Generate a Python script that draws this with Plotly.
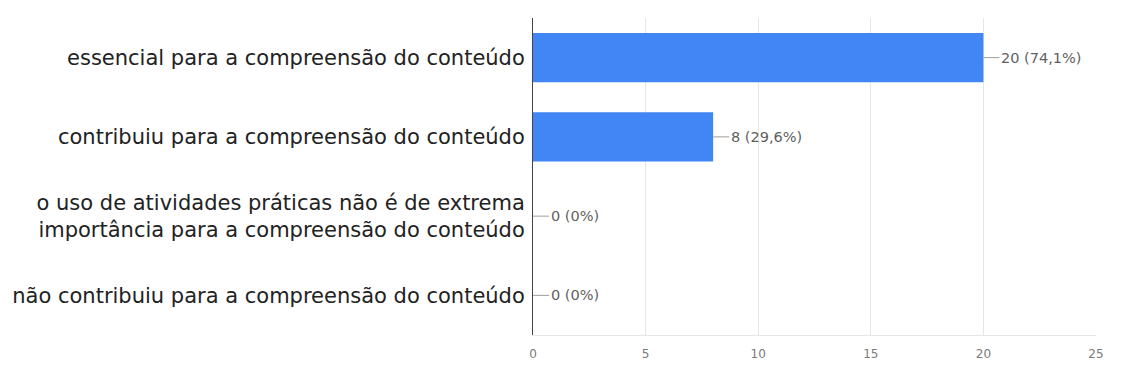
import plotly.graph_objects as go

# Survey answers (top to bottom) and their response counts / shares
categories = [
    "essencial para a compreensão do conteúdo",
    "contribuiu para a compreensão do conteúdo",
    "o uso de atividades práticas não é de extrema<br>importância para a compreensão do conteúdo",
    "não contribuiu para a compreensão do conteúdo",
]
counts = [20, 8, 0, 0]
shares = ["74,1%", "29,6%", "0%", "0%"]
x_ticks = [0, 5, 10, 15, 20, 25]

bar_color = "#4285f4"
label_color = "#222222"
muted = "#7a7a7a"
font_family = "DejaVu Sans, Verdana, sans-serif"

fig = go.Figure(
    go.Bar(
        x=counts,
        y=categories,
        orientation="h",
        marker=dict(color=bar_color, line=dict(width=0)),
        hoverinfo="skip",
    )
)

# Value labels with a short leader line to the right of each bar
for cat, n, pct in zip(categories, counts, shares):
    fig.add_annotation(
        x=n, y=cat, xref="x", yref="y",
        text=f"{n} ({pct})",
        showarrow=True, arrowhead=0, arrowwidth=1, arrowcolor="#9e9e9e",
        ax=16, ay=0, xanchor="left",
        font=dict(family=font_family, size=14.5, color="#5f5f5f"),
        standoff=0, startstandoff=0,
    )

fig.update_layout(
    width=1125, height=380,
    margin=dict(l=531, r=29, t=18, b=45),
    paper_bgcolor="white", plot_bgcolor="white",
    bargap=0.38,
    showlegend=False,
    font=dict(family=font_family),
)

fig.update_xaxes(
    range=[0, 25], tickvals=x_ticks, ticktext=[str(t) for t in x_ticks],
    showgrid=True, gridcolor="#e6e6e6", gridwidth=1,
    zeroline=False, showline=True, linecolor="#e6e6e6", linewidth=1,
    ticks="", ticklabelstandoff=8,
    tickfont=dict(family=font_family, size=12, color=muted),
    fixedrange=True,
)
fig.update_yaxes(
    autorange="reversed",
    showgrid=False, zeroline=False,
    showline=True, linecolor="#444444", linewidth=1,
    ticks="", ticklabelstandoff=3,
    tickfont=dict(family=font_family, size=21, color=label_color),
    fixedrange=True,
)

fig.write_html("out.html", config={"displayModeBar": False})
